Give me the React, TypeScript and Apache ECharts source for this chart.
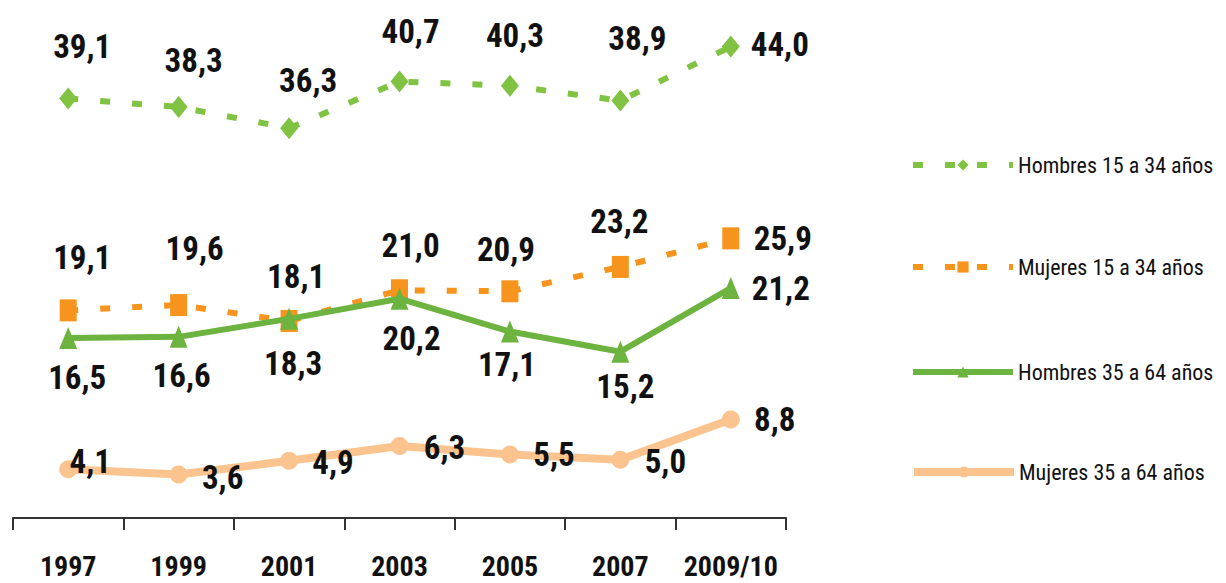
import React, { useEffect, useRef } from "react";
import * as echarts from "echarts";

const categories = ["1997", "1999", "2001", "2003", "2005", "2007", "2009/10"];
const hombres1534 = [39.1, 38.3, 36.3, 40.7, 40.3, 38.9, 44.0];
const mujeres1534 = [19.1, 19.6, 18.1, 21.0, 20.9, 23.2, 25.9];
const hombres3564 = [16.5, 16.6, 18.3, 20.2, 17.1, 15.2, 21.2];
const mujeres3564 = [4.1, 3.6, 4.9, 6.3, 5.5, 5.0, 8.8];
const seriesNames = [
  "Hombres 15 a 34 años",
  "Mujeres 15 a 34 años",
  "Hombres 35 a 64 años",
  "Mujeres 35 a 64 años",
];

// label offsets relative to each point (styling only)
const offH1534 = [[14, -52], [15, -46], [19, -48], [11, -50], [5, -50], [17, -62], [49, -2]];
const offM1534 = [[14, -53], [16, -57], [7, -44], [11, -45], [-4, -42], [-1, -45], [52, 0]];
const offH3564 = [[9, 40], [3, 39], [4, 45], [12, 40], [-3, 33], [5, 35], [50, 0]];
const offM3564 = [[22, -8], [44, 3], [44, 2], [45, 2], [44, 0], [45, 2], [44, 0]];

const legendCenters = [165, 267, 372, 472];

const FONT = "'Roboto Condensed','Liberation Sans Narrow','DejaVu Sans Condensed',sans-serif";

const fmt = (p: any) => Number(p.value).toFixed(1).replace(".", ",");

function mkData(values: number[], offs: number[][]) {
  return values.map((v, i) => ({ value: v, label: { offset: offs[i] } }));
}

export default function App() {
  const ref = useRef<HTMLDivElement>(null);
  useEffect(() => {
    if (!ref.current) return;
    const chart = echarts.init(ref.current, undefined, { renderer: "svg" });
    const labelBase = {
      show: true,
      position: "inside",
      formatter: fmt,
      fontFamily: FONT,
      fontWeight: "bold",
      fontSize: 33,
      color: "#111",
    };
    const colors = ["#80c342", "#f7941e", "#6cb33f", "#fbc38e"];
    const dash = [10, 22];
    chart.setOption({
      animation: false,
      backgroundColor: "#ffffff",
      grid: { left: 13, right: 440, top: 36, bottom: 65, containLabel: false },
      xAxis: {
        type: "category",
        data: categories,
        boundaryGap: true,
        axisLine: { onZero: false, lineStyle: { color: "#333", width: 2 } },
        axisTick: { show: true, length: 12, lineStyle: { color: "#333", width: 2 } },
        axisLabel: {
          margin: 34,
          fontFamily: FONT,
          fontWeight: "bold",
          fontSize: 28,
          color: "#111",
          interval: 0,
        },
        splitLine: { show: false },
      },
      yAxis: {
        type: "value",
        min: -0.5,
        max: 45,
        show: false,
        splitLine: { show: false },
      },
      legend: seriesNames.map((n, i) => ({
        data: [n],
        orient: "vertical",
        left: 910,
        top: legendCenters[i] - 13,
        padding: 0,
        itemWidth: 100,
        itemHeight: 14,
        selectedMode: false,
        lineStyle: { width: i === 3 ? 8 : 6 },
        textStyle: { fontFamily: FONT, fontSize: 22, color: "#111", lineHeight: 26 },
      })),
      series: [
        {
          name: seriesNames[0],
          type: "line",
          data: mkData(hombres1534, offH1534),
          symbol: "diamond",
          symbolSize: [18, 22],
          itemStyle: { color: colors[0] },
          lineStyle: { color: colors[0], width: 6, type: dash },
          label: labelBase,
          silent: true,
          z: 3,
        },
        {
          name: seriesNames[1],
          type: "line",
          data: mkData(mujeres1534, offM1534),
          symbol: "rect",
          symbolSize: [17, 22],
          itemStyle: { color: colors[1] },
          lineStyle: { color: colors[1], width: 6, type: dash },
          label: labelBase,
          silent: true,
          z: 3,
        },
        {
          name: seriesNames[2],
          type: "line",
          data: mkData(hombres3564, offH3564),
          symbol: "triangle",
          symbolSize: [18, 22],
          itemStyle: { color: colors[2] },
          lineStyle: { color: colors[2], width: 6 },
          label: labelBase,
          silent: true,
          z: 4,
        },
        {
          name: seriesNames[3],
          type: "line",
          data: mkData(mujeres3564, offM3564),
          symbol: "circle",
          symbolSize: 18,
          itemStyle: { color: colors[3] },
          lineStyle: { color: colors[3], width: 8 },
          label: labelBase,
          silent: true,
          z: 3,
        },
      ],
    });
    return () => chart.dispose();
  }, []);
  return (
    <div
      ref={ref}
      style={{ position: "absolute", left: 0, top: 0, width: 1226, height: 583, background: "#fff" }}
    />
  );
}
